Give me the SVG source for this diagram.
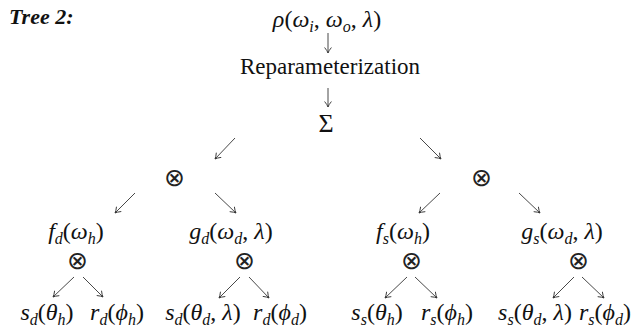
<svg xmlns="http://www.w3.org/2000/svg" width="637" height="329" viewBox="0 0 637 329">
<style>
text{font-family:'Liberation Serif',serif}
.t{font-size:24px;fill:#111;text-anchor:middle}
.rp{font-size:23px}
.i{font-style:italic}
.s{font-size:16px;font-style:italic}
.op{font-size:25px;fill:#222;text-anchor:middle}
.title{font-size:22px;font-weight:bold;font-style:italic;fill:#111}
.c line{stroke:#333;stroke-width:0.9;marker-end:url(#ah)}
</style>
<defs>
<marker id="ah" markerUnits="userSpaceOnUse" markerWidth="12" markerHeight="12" refX="0" refY="0" viewBox="-6 -6 12 12" orient="auto">
<path d="M-5.5,-3.4 Q-2,-0.6 0,0 Q-2,0.6 -5.5,3.4" fill="none" stroke="#333" stroke-width="0.9"/>
</marker>
</defs>
<rect width="637" height="329" fill="#fff"/>
<text class="title" x="9" y="24" font-family="Liberation Serif, serif">Tree 2:</text>
<g font-family="Liberation Serif, DejaVu Serif, serif">
<g id="root"><text class="t" x="327" y="27"><tspan class="i">ρ</tspan>(<tspan class="i">ω</tspan><tspan class="s" dy="5">i</tspan><tspan dy="-5">, </tspan><tspan class="i">ω</tspan><tspan class="s" dy="5">o</tspan><tspan dy="-5">, </tspan><tspan class="i">λ</tspan>)</text></g>
<g id="reparam"><text class="t rp" x="330" y="74">Reparameterization</text></g>
<g id="sum"><text class="t" x="326" y="132" style="font-size:26px">Σ</text></g>

<g id="prodL"><text class="op" x="174" y="186" font-family="DejaVu Serif, serif">⊗</text></g>
<g id="prodR"><text class="op" x="481" y="186" font-family="DejaVu Serif, serif">⊗</text></g>

<g id="fd"><text class="t" x="76" y="239"><tspan class="i">f</tspan><tspan class="s" dy="5">d</tspan><tspan dy="-5">(</tspan><tspan class="i">ω</tspan><tspan class="s" dy="5">h</tspan><tspan dy="-5">)</tspan></text></g>
<g id="gd"><text class="t" x="231" y="239"><tspan class="i">g</tspan><tspan class="s" dy="5">d</tspan><tspan dy="-5">(</tspan><tspan class="i">ω</tspan><tspan class="s" dy="5">d</tspan><tspan dy="-5">, </tspan><tspan class="i">λ</tspan>)</text></g>
<g id="fs"><text class="t" x="403" y="239"><tspan class="i">f</tspan><tspan class="s" dy="5">s</tspan><tspan dy="-5">(</tspan><tspan class="i">ω</tspan><tspan class="s" dy="5">h</tspan><tspan dy="-5">)</tspan></text></g>
<g id="gs"><text class="t" x="562" y="239"><tspan class="i">g</tspan><tspan class="s" dy="5">s</tspan><tspan dy="-5">(</tspan><tspan class="i">ω</tspan><tspan class="s" dy="5">d</tspan><tspan dy="-5">, </tspan><tspan class="i">λ</tspan>)</text></g>

<g id="prodFd"><text class="op" x="77" y="269" font-family="DejaVu Serif, serif">⊗</text></g>
<g id="prodGd"><text class="op" x="244" y="269" font-family="DejaVu Serif, serif">⊗</text></g>
<g id="prodFs"><text class="op" x="411" y="269" font-family="DejaVu Serif, serif">⊗</text></g>
<g id="prodGs"><text class="op" x="578" y="269" font-family="DejaVu Serif, serif">⊗</text></g>

<g id="sdh"><text class="t" x="47" y="320"><tspan class="i">s</tspan><tspan class="s" dy="5">d</tspan><tspan dy="-5">(</tspan><tspan class="i">θ</tspan><tspan class="s" dy="5">h</tspan><tspan dy="-5">)</tspan></text></g>
<g id="rdh"><text class="t" x="117" y="320"><tspan class="i">r</tspan><tspan class="s" dy="5">d</tspan><tspan dy="-5">(</tspan><tspan class="i">ϕ</tspan><tspan class="s" dy="5">h</tspan><tspan dy="-5">)</tspan></text></g>
<g id="sdd"><text class="t" x="203" y="320"><tspan class="i">s</tspan><tspan class="s" dy="5">d</tspan><tspan dy="-5">(</tspan><tspan class="i">θ</tspan><tspan class="s" dy="5">d</tspan><tspan dy="-5">, </tspan><tspan class="i">λ</tspan>)</text></g>
<g id="rdd"><text class="t" x="280" y="320"><tspan class="i">r</tspan><tspan class="s" dy="5">d</tspan><tspan dy="-5">(</tspan><tspan class="i">ϕ</tspan><tspan class="s" dy="5">d</tspan><tspan dy="-5">)</tspan></text></g>
<g id="ssh"><text class="t" x="377" y="320"><tspan class="i">s</tspan><tspan class="s" dy="5">s</tspan><tspan dy="-5">(</tspan><tspan class="i">θ</tspan><tspan class="s" dy="5">h</tspan><tspan dy="-5">)</tspan></text></g>
<g id="rsh"><text class="t" x="447" y="320"><tspan class="i">r</tspan><tspan class="s" dy="5">s</tspan><tspan dy="-5">(</tspan><tspan class="i">ϕ</tspan><tspan class="s" dy="5">h</tspan><tspan dy="-5">)</tspan></text></g>
<g id="ssd"><text class="t" x="535" y="320"><tspan class="i">s</tspan><tspan class="s" dy="5">s</tspan><tspan dy="-5">(</tspan><tspan class="i">θ</tspan><tspan class="s" dy="5">d</tspan><tspan dy="-5">, </tspan><tspan class="i">λ</tspan>)</text></g>
<g id="rsd"><text class="t" x="605" y="320"><tspan class="i">r</tspan><tspan class="s" dy="5">s</tspan><tspan dy="-5">(</tspan><tspan class="i">ϕ</tspan><tspan class="s" dy="5">d</tspan><tspan dy="-5">)</tspan></text></g>
</g>
<g id="connectors" class="c">
<line x1="328" y1="33" x2="328" y2="53"/>
<line x1="328" y1="88" x2="328" y2="107"/>
<line x1="235" y1="138" x2="215" y2="159"/>
<line x1="420" y1="138" x2="441" y2="159"/>
<line x1="135" y1="193" x2="115" y2="213"/>
<line x1="215" y1="193" x2="236" y2="213"/>
<line x1="440" y1="193" x2="419" y2="213"/>
<line x1="519" y1="193" x2="540" y2="213"/>
<line x1="74" y1="277" x2="53" y2="297"/>
<line x1="83" y1="277" x2="103" y2="297"/>
<line x1="240" y1="277" x2="219" y2="298"/>
<line x1="249" y1="277" x2="269" y2="298"/>
<line x1="407" y1="277" x2="385" y2="298"/>
<line x1="415" y1="277" x2="437" y2="298"/>
<line x1="574" y1="277" x2="553" y2="298"/>
<line x1="582" y1="277" x2="604" y2="298"/>
</g>
</svg>
